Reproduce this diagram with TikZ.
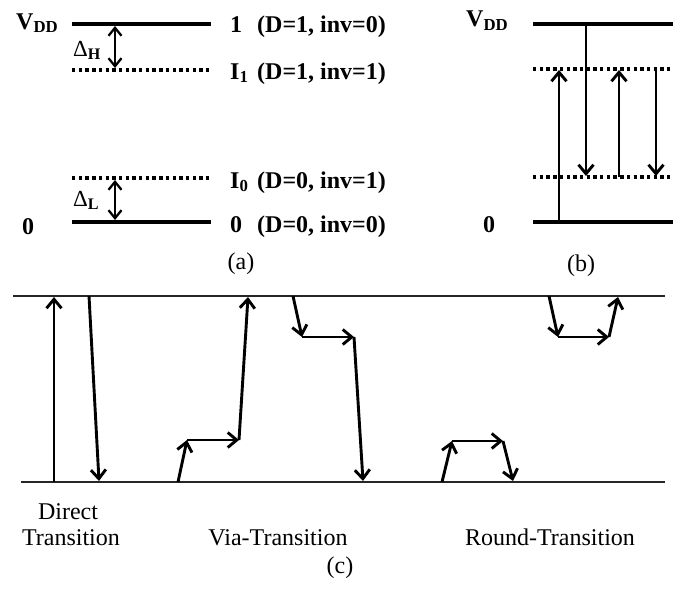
\documentclass[tikz,border=0pt]{standalone}
\usepackage{fontspec}
\setmainfont{Liberation Serif}
\usetikzlibrary{arrows.meta}
\begin{document}
\begin{tikzpicture}[x=1pt,y=-1pt,
  lvl/.style={line width=3.2pt},
  dotlvl/.style={line width=3.2pt, dash pattern=on 3.4pt off 3.3pt},
  tr/.style={line width=2.9pt, -{Straight Barb[length=9pt,width=15pt]}},
  dbl/.style={line width=2.3pt, {Straight Barb[length=8pt,width=13pt]}-{Straight Barb[length=8pt,width=13pt]}},
  rail/.style={line width=1.8pt, black!85},
  lab/.style={font=\fontsize{24}{28}\selectfont\bfseries, inner sep=0pt, anchor=base west},
  dlab/.style={font=\fontsize{23}{27}\selectfont, inner sep=0pt, anchor=base west},
  txt/.style={font=\fontsize{24}{28}\selectfont, inner sep=0pt}
]
\useasboundingbox (0,0) rectangle (680,589);

% ---------- panel (a) ----------
\coordinate (a1L) at (72,24);  \coordinate (a1R) at (211,24);
\coordinate (aHL) at (72,70);  \coordinate (aHR) at (211,70);
\coordinate (aLL) at (72,178); \coordinate (aLR) at (211,178);
\coordinate (a0L) at (72,222); \coordinate (a0R) at (211,222);
\draw[lvl] (a1L) -- (a1R);
\draw[dotlvl] (aHL) -- (aHR);
\draw[dotlvl] (aLL) -- (aLR);
\draw[lvl] (a0L) -- (a0R);
\coordinate (dHt) at (115,26) ; \coordinate (dHb) at (115,68);
\coordinate (dLt) at (115,180); \coordinate (dLb) at (115,220);
\draw[dbl] (dHt) -- (dHb);
\draw[dbl] (dLt) -- (dLb);
\node[lab] (avdd) at (16,29) {V\textsubscript{DD}};
\node[lab] (azero) at (22,234) {0};
\node[dlab] (dH) at (73,56) {Δ\textsubscript{\textbf{H}}};
\node[dlab] (dL) at (73,206) {Δ\textsubscript{\textbf{L}}};
\node[lab] (s1) at (230,32) {1};
\node[lab] (s1t) at (257,32) {(D=1, inv=0)};
\node[lab] (sI1) at (230,79) {I\textsubscript{1}};
\node[lab] (sI1t) at (257,79) {(D=1, inv=1)};
\node[lab] (sI0) at (230,188) {I\textsubscript{0}};
\node[lab] (sI0t) at (257,188) {(D=0, inv=1)};
\node[lab] (s0) at (230,232) {0};
\node[lab] (s0t) at (257,232) {(D=0, inv=0)};
\node[txt] (capa) at (241,264) {(a)};

% ---------- panel (b) ----------
\coordinate (b1L) at (533,24);  \coordinate (b1R) at (673,24);
\coordinate (bHL) at (533,69);  \coordinate (bHR) at (673,69);
\coordinate (bLL) at (533,177); \coordinate (bLR) at (673,177);
\coordinate (b0L) at (533,222); \coordinate (b0R) at (673,222);
\draw[lvl] (b1L) -- (b1R);
\draw[dotlvl] (bHL) -- (bHR);
\draw[dotlvl] (bLL) -- (bLR);
\draw[lvl] (b0L) -- (b0R);
\coordinate (p1a) at (559,222); \coordinate (p1b) at (559,70);
\coordinate (p2a) at (586,24);  \coordinate (p2b) at (586,176);
\coordinate (p3a) at (619,177); \coordinate (p3b) at (619,70);
\coordinate (p4a) at (656,69);  \coordinate (p4b) at (656,176);
\draw[tr] (p1a) -- (p1b);
\draw[tr] (p2a) -- (p2b);
\draw[tr] (p3a) -- (p3b);
\draw[tr] (p4a) -- (p4b);
\node[lab] (bvdd) at (466,27) {V\textsubscript{DD}};
\node[lab] (bzero) at (483,232) {0};
\node[txt] (capb) at (581,266) {(b)};

% ---------- panel (c) ----------
\coordinate (cTL) at (13,296);  \coordinate (cTR) at (665,296);
\coordinate (cBL) at (21,482);  \coordinate (cBR) at (665,482);
\draw[rail] (cTL) -- (cTR);
\draw[rail] (cBL) -- (cBR);
% direct
\coordinate (d1a) at (54,482); \coordinate (d1b) at (54,297);
\coordinate (d2a) at (89,296); \coordinate (d2b) at (99,481);
\draw[tr] (d1a) -- (d1b);
\draw[tr] (d2a) -- (d2b);
% via up
\coordinate (v1) at (178,482); \coordinate (v2) at (187,440);
\coordinate (v3) at (239,440); \coordinate (v4) at (248,297);
\draw[tr] (v1) -- (v2);
\draw[tr] (v2) -- (v3);
\draw[tr] (v3) -- (v4);
% via down
\coordinate (w1) at (293,296); \coordinate (w2) at (302,337);
\coordinate (w3) at (354,337); \coordinate (w4) at (363,481);
\draw[tr] (w1) -- (w2);
\draw[tr] (w2) -- (w3);
\draw[tr] (w3) -- (w4);
% round low
\coordinate (r1) at (442,482); \coordinate (r2) at (452,441);
\coordinate (r3) at (503,441); \coordinate (r4) at (513,481);
\draw[tr] (r1) -- (r2);
\draw[tr] (r2) -- (r3);
\draw[tr] (r3) -- (r4);
% round high
\coordinate (u1) at (549,296); \coordinate (u2) at (558,337);
\coordinate (u3) at (609,337); \coordinate (u4) at (618,297);
\draw[tr] (u1) -- (u2);
\draw[tr] (u2) -- (u3);
\draw[tr] (u3) -- (u4);
\node[txt, anchor=base] (tdir) at (68,519) {Direct};
\node[txt, anchor=base] (tdir2) at (71,545) {Transition};
\node[txt, anchor=base] (tvia) at (278,545) {Via-Transition};
\node[txt, anchor=base] (trnd) at (550,545) {Round-Transition};
\node[txt] (capc) at (340,568) {(c)};
\end{tikzpicture}
\end{document}
